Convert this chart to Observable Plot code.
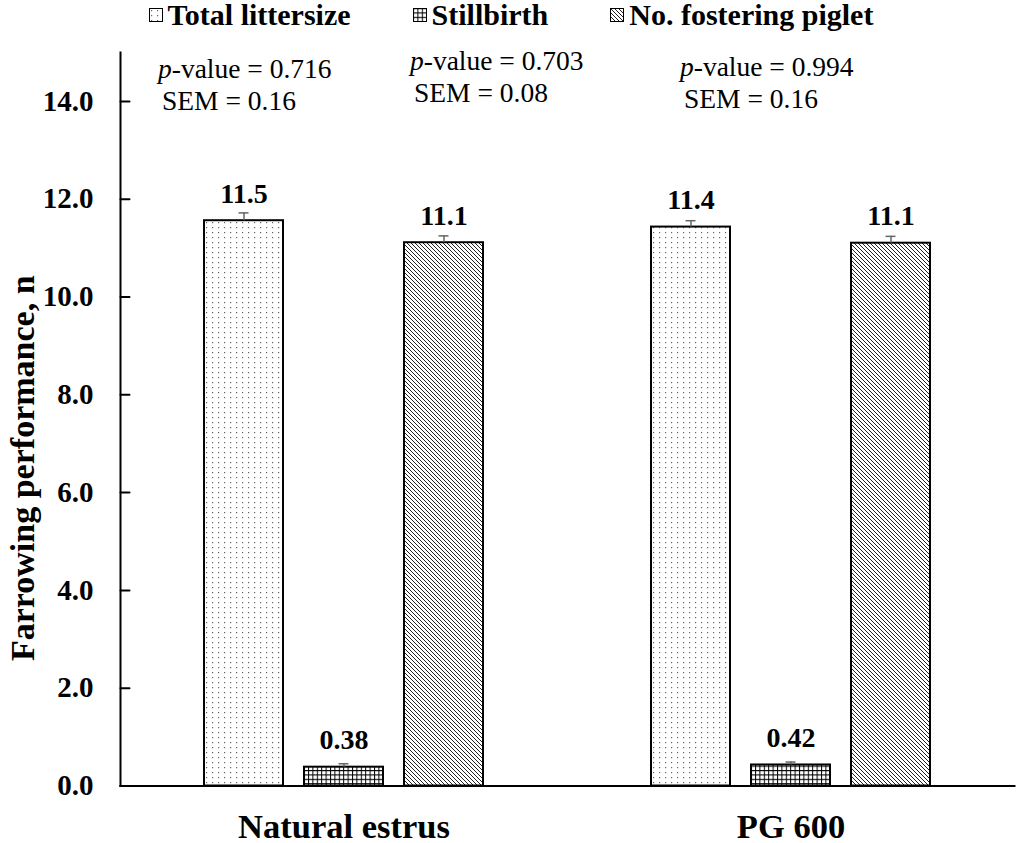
<!DOCTYPE html>
<html>
<head>
<meta charset="utf-8">
<script src="https://cdn.jsdelivr.net/npm/d3@7"></script>
<script src="https://cdn.jsdelivr.net/npm/@observablehq/plot@0.6"></script>
<style>
  body { margin: 0; background: #fff; font-family: "Liberation Serif", "Tinos", "DejaVu Serif", serif; color: #000; }
  #wrap { position: relative; width: 1022px; height: 843px; }
  #legend { position: absolute; left: 0; top: -1px; width: 1022px; height: 32px; display: flex; justify-content: center; align-items: center; font-weight: bold; font-size: 30px; line-height: 32px; }
  .item { display: flex; align-items: center; margin: 0 31px; }
  .item svg { margin-right: 5px; }
  .ann { position: absolute; font-size: 27.5px; line-height: 32px; white-space: nowrap; }
  .ann .sem { padding-left: 4px; }
</style>
</head>
<body>
<div id="wrap">
  <div id="chart"></div>
  <div id="legend"></div>
</div>
<script>
// ---- data ----
const groups = ["Natural estrus", "PG 600"];
const series = ["Total littersize", "Stillbirth", "No. fostering piglet"];
const naturalValues = [11.56, 0.385, 11.11];
const pg600Values = [11.43, 0.43, 11.10];
const naturalErrors = [0.16, 0.07, 0.14];
const pg600Errors = [0.13, 0.06, 0.14];
const naturalLabels = ["11.5", "0.38", "11.1"];
const pg600Labels = ["11.4", "0.42", "11.1"];
const yTicks = [0, 2, 4, 6, 8, 10, 12, 14];
const pValues = ["0.716", "0.703", "0.994"];
const semValues = ["0.16", "0.08", "0.16"];
const patternIds = ["pat-dots", "pat-grid", "pat-diag"];

const data = [];
groups.forEach((g, gi) => series.forEach((s, si) => data.push({
  group: g, series: s,
  value: gi ? pg600Values[si] : naturalValues[si],
  err: gi ? pg600Errors[si] : naturalErrors[si],
  label: gi ? pg600Labels[si] : naturalLabels[si]
})));

const tickShape = {draw(context, l) { context.moveTo(0, 0); context.lineTo(0, -l); }};
const font = '"Liberation Serif", "Tinos", "DejaVu Serif", serif';

const svg = Plot.plot({
  width: 1022, height: 843,
  marginTop: 52, marginRight: 8, marginBottom: 57.5, marginLeft: 120,
  style: {fontFamily: font, color: "black", background: "white", overflow: "visible"},
  fx: {domain: groups, padding: 0, label: null},
  x: {domain: series, paddingInner: 0.21, paddingOuter: 0.84, axis: null},
  y: {domain: [0, 15]},
  color: {domain: series, range: patternIds.map(id => `url(#${id})`)},
  marks: [
    Plot.barY(data, {fx: "group", x: "series", y: "value", fill: "series", stroke: "black", strokeWidth: 2}),
    Plot.ruleX(data, {fx: "group", x: "series", y1: "value", y2: d => d.value + d.err, stroke: "#666", strokeWidth: 1.5}),
    Plot.tickY(data, {fx: "group", x: "series", y: d => d.value + d.err, stroke: "#666", strokeWidth: 1.5, insetLeft: 34.5, insetRight: 34.5}),
    Plot.text(data, {fx: "group", x: "series", y: "value", text: "label", dy: -18, lineAnchor: "bottom", fontSize: 28, fontWeight: "bold", fill: "black"}),
    Plot.frame({anchor: "bottom", strokeWidth: 2}),
    Plot.frame({anchor: "left", strokeWidth: 2, facetAnchor: "left"}),
    Plot.vector(yTicks, {y: d => d, frameAnchor: "left", length: 9, rotate: 90, anchor: "start", shape: tickShape, stroke: "black", strokeWidth: 2, facetAnchor: "left"}),
    Plot.axisY({ticks: yTicks, tickSize: 0, tickPadding: 27, tickFormat: d => d.toFixed(1), fontSize: 29, fontWeight: "bold", label: null}),
    Plot.axisFx({anchor: "bottom", tickSize: 0, tickPadding: 27, fontSize: 34.5, fontWeight: "bold", label: null}),
    Plot.text(["Farrowing performance, n"], {text: d => d, frameAnchor: "left", textAnchor: "middle", rotate: -90, lineAnchor: "bottom", dx: -87, dy: 49, fontSize: 34, fontWeight: "bold", fill: "black", facetAnchor: "left"})
  ]
});

// pattern definitions
const defs = d3.select(svg).insert("defs", ":first-child");
const pDots = defs.append("pattern").attr("id", "pat-dots").attr("patternUnits", "userSpaceOnUse").attr("width", 6).attr("height", 5);
pDots.append("rect").attr("width", 6).attr("height", 5).attr("fill", "white");
pDots.append("rect").attr("x", 2).attr("y", 2).attr("width", 1.2).attr("height", 1.2).attr("fill", "#666");
const pGrid = defs.append("pattern").attr("id", "pat-grid").attr("patternUnits", "userSpaceOnUse").attr("width", 4.4).attr("height", 4.4);
pGrid.append("rect").attr("width", 4.4).attr("height", 4.4).attr("fill", "white");
pGrid.append("path").attr("d", "M0,0.5H4.4M0.5,0V4.4").attr("stroke", "black").attr("stroke-width", 1);
const pDiag = defs.append("pattern").attr("id", "pat-diag").attr("patternUnits", "userSpaceOnUse").attr("width", 4).attr("height", 4);
pDiag.append("rect").attr("width", 4).attr("height", 4).attr("fill", "white");
pDiag.append("path").attr("d", "M0,0L4,4M-1,3L1,5M3,-1L5,1").attr("stroke", "#222").attr("stroke-width", 1);

document.getElementById("chart").appendChild(svg);

// legend
const legend = document.getElementById("legend");
series.forEach((s, i) => {
  const item = document.createElement("div");
  item.className = "item";
  item.innerHTML = `<svg width="14" height="14"><rect x="0.5" y="0.5" width="13" height="13" fill="url(#${patternIds[i]})" stroke="black" stroke-width="1"/></svg><span>${s}</span>`;
  legend.appendChild(item);
});

// annotations
const annPos = [[158, 53], [410, 45], [680, 51]];
const wrap = document.getElementById("wrap");
pValues.forEach((p, i) => {
  const div = document.createElement("div");
  div.className = "ann";
  div.style.left = annPos[i][0] + "px";
  div.style.top = annPos[i][1] + "px";
  div.innerHTML = `<i>p</i>-value = ${p}<br><span class="sem">SEM = ${semValues[i]}</span>`;
  wrap.appendChild(div);
});
</script>
</body>
</html>
